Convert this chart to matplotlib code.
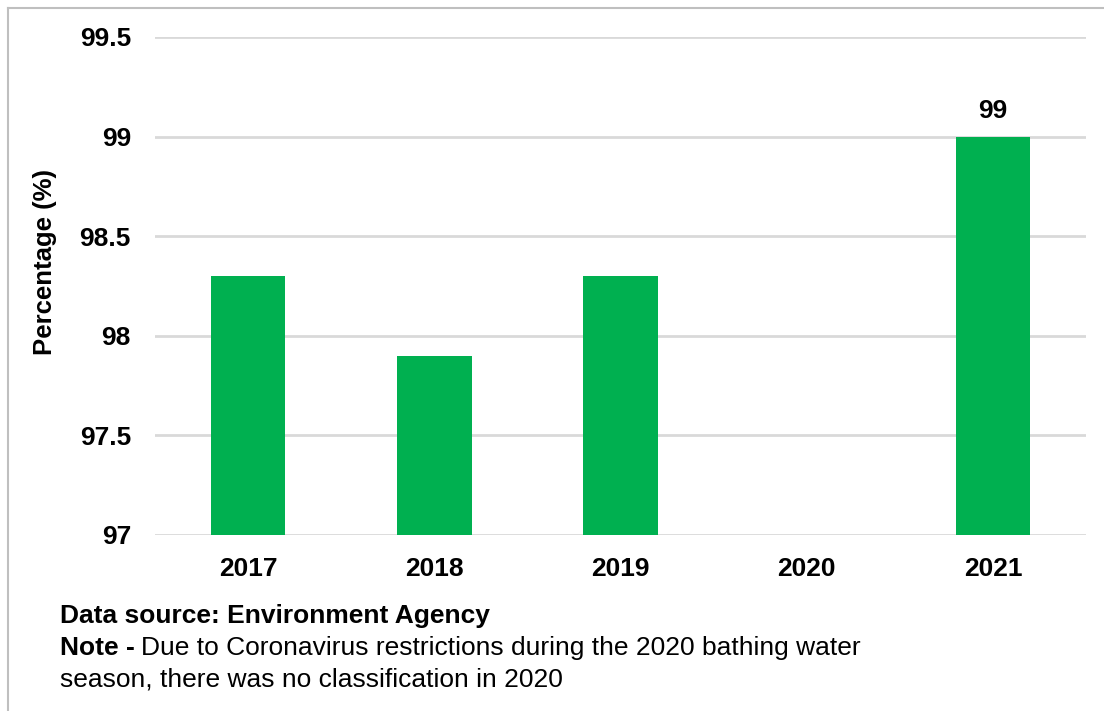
import numpy as np
import matplotlib
matplotlib.use("Agg")
import matplotlib.pyplot as plt
from matplotlib.lines import Line2D

plt.rcParams["font.family"] = ["Liberation Sans", "DejaVu Sans"]

years = ["2017", "2018", "2019", "2020", "2021"]
percentages = [98.3, 97.9, 98.3, np.nan, 99.0]
labelled = {"2021": "99"}
y_ticks = [97, 97.5, 98, 98.5, 99, 99.5]
y_tick_labels = ["97", "97.5", "98", "98.5", "99", "99.5"]

W, H = 1104, 711
FS = 19
fig = plt.figure(figsize=(W / 100, H / 100), dpi=100)
ax = fig.add_axes([155 / W, 1 - 535 / H, (1086 - 155) / W, (535 - 37) / H])

x = np.arange(len(years))
ax.bar(x, percentages, width=0.4, color="#00B050", zorder=3)

for i, (yr, v) in enumerate(zip(years, percentages)):
    if yr in labelled:
        ax.annotate(labelled[yr], (i, v), xytext=(0, 10), textcoords="offset points",
                    ha="center", va="bottom", fontsize=FS, fontweight="bold")

ax.set_xlim(-0.5, len(years) - 0.5)
ax.set_ylim(97, 99.5)
ax.set_yticks(y_ticks)
ax.set_yticklabels(y_tick_labels)
ax.set_xticks(x)
ax.set_xticklabels(years)
ax.tick_params(axis="both", length=0, labelsize=FS)
ax.tick_params(axis="y", pad=17.3)
ax.tick_params(axis="x", pad=16)
for lab in ax.get_xticklabels() + ax.get_yticklabels():
    lab.set_fontweight("bold")

ax.grid(axis="y", color="#d9d9d9", linewidth=2, zorder=0)
ax.set_axisbelow(True)
for s in ax.spines.values():
    s.set_visible(False)

fig.text(45 / W, 1 - 262 / H, "Percentage (%)", rotation=90, ha="center", va="center",
         fontsize=18.5, fontweight="bold")

fig.text(60 / W, 1 - 616 / H, "Data source: Environment Agency", ha="left", va="center",
         fontsize=FS, fontweight="bold")
note_bold = fig.text(60 / W, 1 - 648 / H, "Note -", ha="left", va="center",
                     fontsize=FS, fontweight="bold")
renderer = fig.canvas.get_renderer()
bb = note_bold.get_window_extent(renderer)
fig.text((bb.x1 + 6) / W, 1 - 648 / H,
         "Due to Coronavirus restrictions during the 2020 bathing water",
         ha="left", va="center", fontsize=FS)
fig.text(60 / W, 1 - 680 / H, "season, there was no classification in 2020", ha="left",
         va="center", fontsize=FS)

# outer frame
fig.add_artist(Line2D([8 / W, 8 / W], [0, 1 - 8 / H], transform=fig.transFigure,
                      color="#bfbfbf", linewidth=1.5))
fig.add_artist(Line2D([8 / W, 1], [1 - 8 / H, 1 - 8 / H], transform=fig.transFigure,
                      color="#bfbfbf", linewidth=1.5))

fig.savefig("out.png", dpi=100)
